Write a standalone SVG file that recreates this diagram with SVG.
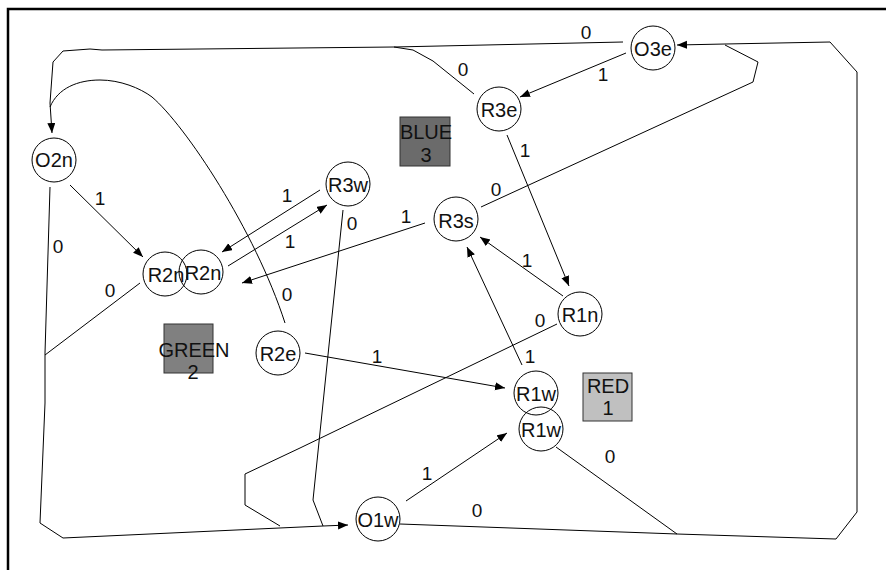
<svg xmlns="http://www.w3.org/2000/svg" width="886" height="570" viewBox="0 0 886 570">
  <defs>
    <marker id="arrow" markerUnits="userSpaceOnUse" markerWidth="11" markerHeight="9" refX="10" refY="4" orient="auto">
      <path d="M0,0 L10,4 L0,8 z" fill="#000"/>
    </marker>
    <style>
      text { font-family: "Liberation Sans", Arial, sans-serif; font-size: 19px; fill: #111; text-anchor: middle; }
      .node text, .zone text { font-size: 20px; }
      .node circle { fill: none; stroke: #000; stroke-width: 1; }
      .edge { fill: none; stroke: #000; stroke-width: 1; }
      .arr { marker-end: url(#arrow); }
      .frame { fill: none; stroke: #000; stroke-width: 2.5; }
      .box { stroke: #333; stroke-width: 1; }
    </style>
  </defs>

  <rect width="886" height="570" fill="#fff"/>
  <rect class="frame" x="8" y="9" width="900" height="600"/>

  <!-- colour zones -->
  <g id="zone-blue" class="zone"><rect class="box" x="400" y="117" width="50" height="49" fill="#6b6b6b"/><text x="426" y="139">BLUE</text><text x="426" y="162">3</text></g>
  <g id="zone-green" class="zone"><rect class="box" x="164" y="324" width="49" height="49" fill="#808080"/><text x="194" y="357">GREEN</text><text x="193" y="379">2</text></g>
  <g id="zone-red" class="zone"><rect class="box" x="583" y="373" width="49" height="48" fill="#c0c0c0"/><text x="608" y="393">RED</text><text x="608" y="415">1</text></g>

  <!-- connectors -->
  <g id="edges">
    <path class="edge arr" d="M623,42 L394,47 L102,50 L90,49 L63,51 L53,62 L50,103 L52,133"/>
    <path class="edge" d="M474,94 L433,61 L413,50 L394,47"/>
    <path class="edge arr" d="M626,53 L520,97"/>
    <path class="edge arr" d="M507,135 L569,286"/>
    <path class="edge" d="M481,207 L753,82 L758,62 L725,45"/>
    <path class="edge arr" d="M70,185 L143,257"/>
    <path class="edge arr" d="M50,187 L45,353 L45,403 L40,523 L63,538 L323,526 L348,525"/>
    <path class="edge" d="M140,283 L45,355"/>
    <path class="edge arr" d="M320,190 L222,252"/>
    <path class="edge arr" d="M228,266 L327,205"/>
    <path class="edge arr" d="M425,223 L242,283"/>
    <path class="edge" d="M343,210 L313,500 L323,526"/>
    <path class="edge" d="M50,107 C58,88 78,80 100,80 C120,80 140,88 152,97 C185,125 255,230 285,323"/>
    <path class="edge arr" d="M305,353 L505,388"/>
    <path class="edge arr" d="M563,296 L480,237"/>
    <path class="edge arr" d="M522,365 L467,247"/>
    <path class="edge" d="M557,324 L300,448 L245,474 L245,505 L280,526"/>
    <path class="edge arr" d="M406,501 L507,433"/>
    <path class="edge arr" d="M400,524 L677,534 L836,539 L857,512 L857,72 L830,42 L725,44 L677,45"/>
    <path class="edge" d="M556,447 L677,534"/>
  </g>

  <!-- connector labels -->
  <g id="labels">
    <text x="586" y="39">0</text>
    <text x="463" y="76">0</text>
    <text x="603" y="81">1</text>
    <text x="525" y="157">1</text>
    <text x="496" y="196">0</text>
    <text x="100" y="205">1</text>
    <text x="58" y="253">0</text>
    <text x="110" y="297">0</text>
    <text x="287" y="202">1</text>
    <text x="290" y="248">1</text>
    <text x="406" y="223">1</text>
    <text x="352" y="230">0</text>
    <text x="287" y="301">0</text>
    <text x="377" y="363">1</text>
    <text x="527" y="267">1</text>
    <text x="530" y="363">1</text>
    <text x="540" y="327">0</text>
    <text x="427" y="480">1</text>
    <text x="477" y="517">0</text>
    <text x="610" y="463">0</text>
  </g>

  <!-- nodes -->
  <g id="O3e" class="node"><circle cx="653" cy="48" r="22"/><text x="653" y="56">O3e</text></g>
  <g id="R3e" class="node"><circle cx="499" cy="109" r="22"/><text x="499" y="117">R3e</text></g>
  <g id="O2n" class="node"><circle cx="54" cy="160" r="22"/><text x="54" y="167">O2n</text></g>
  <g id="R3w" class="node"><circle cx="348" cy="184" r="22"/><text x="348" y="192">R3w</text></g>
  <g id="R3s" class="node"><circle cx="456" cy="219" r="22"/><text x="456" y="228">R3s</text></g>
  <g id="R2n-a" class="node"><circle cx="165" cy="274" r="22"/><text x="166" y="282">R2n</text></g>
  <g id="R2n-b" class="node"><circle cx="201" cy="272" r="22"/><text x="203" y="280">R2n</text></g>
  <g id="R2e" class="node"><circle cx="278" cy="353" r="22"/><text x="278" y="361">R2e</text></g>
  <g id="R1n" class="node"><circle cx="580" cy="314" r="22"/><text x="580" y="322">R1n</text></g>
  <g id="R1w-a" class="node"><circle cx="536" cy="393" r="22"/><text x="536" y="401">R1w</text></g>
  <g id="R1w-b" class="node"><circle cx="541" cy="429" r="22"/><text x="541" y="437">R1w</text></g>
  <g id="O1w" class="node"><circle cx="378" cy="519" r="22"/><text x="378" y="527">O1w</text></g>
</svg>
